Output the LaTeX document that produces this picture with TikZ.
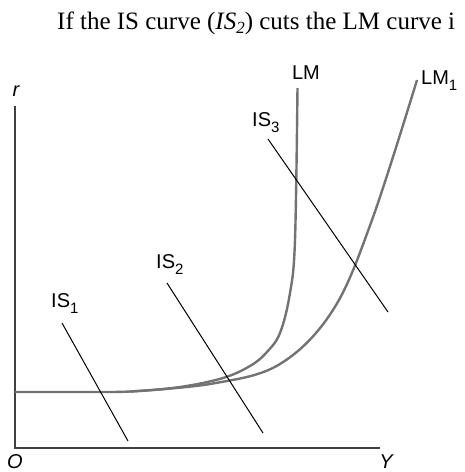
\documentclass[tikz,border=0pt]{standalone}
\usepackage{fontspec}
\setmainfont{Liberation Serif}
\newfontfamily\lblfont{Liberation Sans}
\newcommand{\lsub}[1]{\raisebox{-6pt}{\fontsize{15}{15}\selectfont #1}}
\begin{document}
\begin{tikzpicture}[x=1pt,y=-1pt,
  axisline/.style={draw=black!75,line width=1.4pt},
  lmcurve/.style={draw=black!55,line width=2.4pt},
  isline/.style={draw=black,line width=1pt},
  lbl/.style={font=\lblfont\fontsize{20}{20}\selectfont,inner sep=0pt},
  axlbl/.style={font=\lblfont\itshape\fontsize{20}{20}\selectfont,inner sep=0pt}]
\useasboundingbox (0,0) rectangle (464,472);
% heading line
\node[anchor=base west,inner sep=0pt,font=\fontsize{25}{25}\selectfont] (head) at (57,29)
  {If the IS curve (\textit{IS}\raisebox{-4pt}{\fontsize{17}{17}\selectfont\textit{2}}) cuts the LM curve i};
% axes
\coordinate (top) at (15,106);
\coordinate (O) at (15,448);
\coordinate (xend) at (380,448);
\draw[axisline] (top) -- (O) -- (xend);
\node[axlbl] (rl) at (16,91) {r};
\node[axlbl,anchor=base] (ol) at (15,468) {O};
\node[axlbl,anchor=base] (yl) at (386,468) {Y};
% LM curves
\draw[lmcurve] plot[smooth,tension=0.6] coordinates {(15,392) (80,392) (130,391.5) (180,387) (223,378) (250,366) (266,353) (280,333) (290,293) (295,240) (297.5,88)};
\draw[lmcurve] plot[smooth,tension=0.6] coordinates {(130,391.5) (213,383.5) (280,364) (333,310) (372,220) (417,80)};
\node[lbl] (lm) at (306,73) {LM};
\node[lbl,anchor=base west] (lm1) at (421,84) {LM\lsub{1}};
% IS lines
\coordinate (a1) at (62,323); \coordinate (b1) at (128,441);
\coordinate (a2) at (167,283); \coordinate (b2) at (263,433);
\coordinate (a3) at (268,139); \coordinate (b3) at (388,312);
\draw[isline] (a1) -- (b1);
\draw[isline] (a2) -- (b2);
\draw[isline] (a3) -- (b3);
\node[lbl,anchor=base west] (is1) at (51,307) {IS\lsub{1}};
\node[lbl,anchor=base west] (is2) at (156,268) {IS\lsub{2}};
\node[lbl,anchor=base west] (is3) at (252,126) {IS\lsub{3}};
\end{tikzpicture}
\end{document}
